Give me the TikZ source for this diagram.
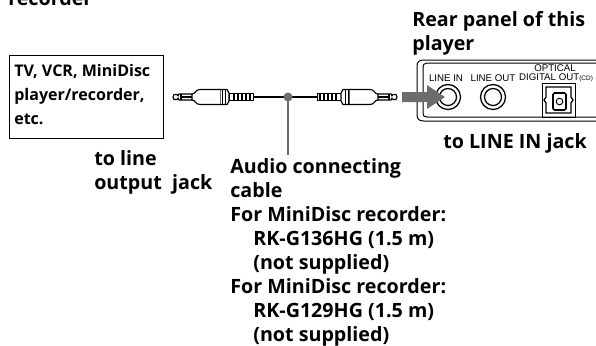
\documentclass[tikz,border=0pt]{standalone}
\usepackage{fontspec}
\setmainfont{Open Sans}
\newfontfamily\panelfont{Liberation Sans}
\tikzset{
  devicebox/.style={draw,line width=0.8pt,anchor=north west,minimum width=3.8625cm,minimum height=2.0875cm},
  boxlabel/.style={anchor=north west,align=left,inner sep=0pt,font=\bfseries\fontsize{11.4}{17}\selectfont},
  bodylabel/.style={anchor=north west,align=left,inner sep=0pt,font=\bfseries\fontsize{14}{17.05}\selectfont},
  panellabel/.style={inner sep=0pt,font=\panelfont\fontsize{6.9}{7.2}\selectfont},
  leader/.style={gray!85!black,line width=2pt},
  audioplug/.pic={
    % cable end, strain relief
    \draw[line width=0.7pt] (0,-3.5) rectangle (24,3.5);
    \foreach \s in {3,7,11,15,19}{
      \draw[line width=0.9pt] (\s,-3.5) -- (\s,3.5);}
    % collar
    \draw[line width=0.8pt,fill=white] (24,-4) -- (26,-7.5) -- (33,-7.5) -- (33,7.5) -- (26,7.5) -- (24,4) -- cycle;
    \draw[line width=0.6pt] (28,-7.5) -- (28,7.5) (31,-7.5) -- (31,7.5);
    % body
    \draw[line width=0.8pt,fill=white] (33,-7.5) -- (53,-7.5) .. controls (58,-7.5) and (57,-3) .. (61,-3) -- (61,3) .. controls (57,3) and (58,7.5) .. (53,7.5) -- (33,7.5);
    % sleeve + tip
    \draw[line width=0.8pt] (61,-3) -- (74,-3) -- (75,-1.2) -- (76,-2.5) -- (79,-2.5) -- (80,0) -- (79,2.5) -- (76,2.5) -- (75,1.2) -- (74,3) -- (61,3);
    \draw[line width=1pt] (72,-3) -- (72,3);
    \draw[line width=0.8pt] (61,0) -- (72,0);}
}
\begin{document}
\begin{tikzpicture}[x=0.025cm,y=-0.025cm]
\useasboundingbox (0,0) rectangle (596,345);
\clip (0,0) rectangle (596,345);
% heading, cut off by the page
\node[bodylabel] (heading) at (8,-10) {recorder};
% source device
\node[devicebox] (source) at (8.5,54.5) {};
\node[boxlabel] (sourcetext) at (14,64) {TV, VCR, MiniDisc\\player/recorder,\\etc.};
\node[bodylabel] (linejack) at (94,150) {to line\\output\ \ jack};
% plugs and cable
\coordinate (plugL) at (253,97);
\coordinate (plugR) at (317,97);
\coordinate (joint) at (288,97);
\pic[xscale=-1] at (plugL) {audioplug};
\pic at (plugR) {audioplug};
\draw[line width=1.4pt] (plugL) -- (plugR);
% leader down to the label
\node[bodylabel] (cablelabel) at (230,158) {Audio connecting\\cable\\For MiniDisc recorder:\\\hspace*{16.4pt}RK-G136HG (1.5 m)\\\hspace*{16.4pt}(not supplied)\\For MiniDisc recorder:\\\hspace*{16.4pt}RK-G129HG (1.5 m)\\\hspace*{16.4pt}(not supplied)};
\coordinate (leaderend) at (288,155);
\draw[leader] (joint) -- (leaderend);
\fill[gray!85!black] (joint) circle (4.5);
% rear panel
\node[bodylabel] (paneltitle) at (412,11) {Rear panel of this\\player};
\draw[line width=0.7pt] (596,60) -- (424,60) .. controls (419,60) and (417,62) .. (417,66) -- (417,115) .. controls (417,119) and (419,121) .. (424,121) -- (596,121);
\draw[line width=0.7pt] (596,63) -- (427,63) .. controls (424,63) and (423,65) .. (423,67) -- (423,113) .. controls (423,116) and (424,117) .. (427,117) -- (596,117);
\node[panellabel] (linein) at (446,78) {LINE IN};
\node[panellabel] (lineout) at (493,78) {LINE OUT};
\node[panellabel] (optical) at (555,68) {OPTICAL};
\node[panellabel] (digital) at (556,78) {DIGITAL OUT{\fontsize{4.6}{5}\selectfont(CD)}};
% jacks
\foreach \x in {448,493}{
  \draw[line width=0.9pt] (\x,97) circle (12.5);
  \draw[line width=0.9pt] (\x,97) circle (8.5);}
% optical socket
\draw[line width=0.7pt] (542,83) rectangle (575,117);
\draw[line width=0.9pt] (546,87) -- (571,87) -- (571,97) -- (573,100) -- (571,103) -- (571,113) -- (546,113) -- (546,103) -- (544,100) -- (546,97) -- cycle;
\draw[line width=1.1pt,rounded corners=1pt] (553,93) rectangle (566,110);
\draw[line width=0.7pt] (559.5,101.5) circle (3.3);
% insert arrow
\fill[gray!85!black] (402,92) -- (427,92) -- (427,85) -- (445,97) -- (427,109) -- (427,102) -- (402,102) -- cycle;
\node[bodylabel] (jacklabel) at (443,133) {to LINE IN jack};
\end{tikzpicture}
\end{document}
